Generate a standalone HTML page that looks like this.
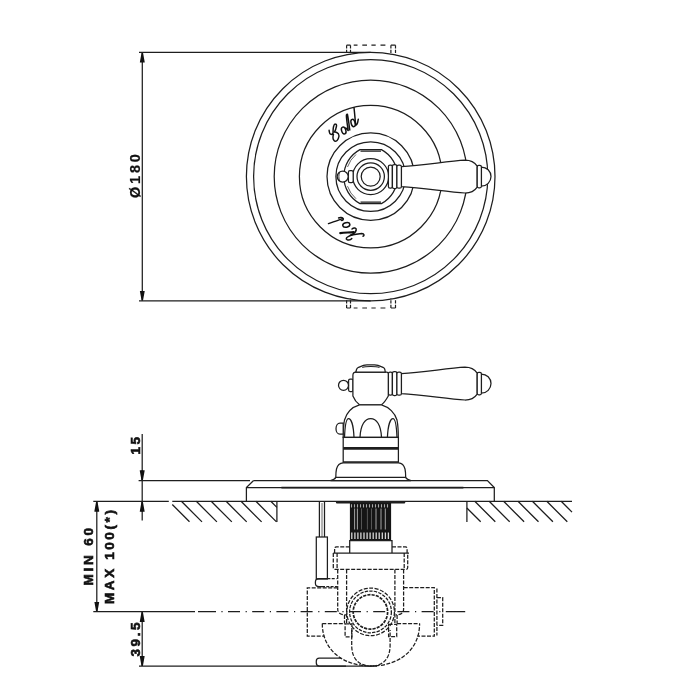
<!DOCTYPE html>
<html><head><meta charset="utf-8"><style>
html,body{margin:0;padding:0;background:#fff;width:700px;height:700px;overflow:hidden}
svg{display:block;filter:grayscale(1)}
.t{font-family:"Liberation Sans",sans-serif;font-weight:bold;fill:#111;stroke:#111;stroke-width:0.6}
</style></head><body>
<svg width="700" height="700" viewBox="0 0 700 700">
<defs>

<marker id="arr" viewBox="0 0 10 10" refX="10" refY="5" markerWidth="10" markerHeight="10" orient="auto-start-reverse" markerUnits="userSpaceOnUse">
  <path d="M0,2.8 C0,2.6 0.3,2.5 0.6,2.6 L10,4.3 V5.7 L0.6,7.4 C0.3,7.5 0,7.4 0,7.2 Z" fill="#111"/>
</marker>
</defs>

<!-- ============ TOP VIEW ============ -->
<g fill="none" stroke="#1e1e1e" stroke-width="1.25">
  <!-- extension lines -->
  <path d="M139,52.3 H370.7 M139,300.9 H370.7"/>
  <!-- dimension line -->
  <path d="M142.3,52.6 V300.6" marker-start="url(#arr)" marker-end="url(#arr)"/>
  <!-- circles -->
  <circle cx="370.7" cy="176.6" r="124.3"/>
  <circle cx="370.7" cy="176.6" r="117.1"/>
  <circle cx="370.7" cy="176.6" r="96.5"/>
  <circle cx="370.7" cy="176.6" r="71.3"/>
  <circle cx="370.7" cy="176.6" r="43.7"/>
  <circle cx="370.7" cy="176.6" r="34.8"/>
  <path d="M360,149.6 H381.4 A30.6,30.6 0 0 1 381.4,203.6 H360 A30.6,30.6 0 0 1 360,149.6 Z"/>
  <path d="M360.5,151.1 H381 M381,202.1 H360.5" stroke-width="1.3"/>
  <path d="M347.5,167 A29,29 0 0 1 356,154.5 M347.5,186.2 A29,29 0 0 0 356,198.7" stroke-width="1" stroke="#666"/>
  <circle cx="370.7" cy="176.6" r="18"/>
  <circle cx="370.7" cy="176.6" r="13.7"/>
  <circle cx="370.7" cy="176.6" r="9.5"/>
  <!-- dashed boxes -->
  <g stroke-width="1.2">
    <path d="M346.6,45.2 H350.5 M390.9,45.2 H395.5 M353.7,45.2 H357.5 M362.3,45.2 H367 M371.4,45.2 H375.7 M380.5,45.2 H385.4"/>
    <path d="M346.6,45.2 V54.5 M350.5,45.2 V54.5 M390.9,45.2 V54.5 M395.5,45.2 V54.5" stroke-dasharray="3.2,1.3"/>
    <path d="M346.6,308 H350.5 M390.9,308 H395.5 M353.7,308 H357.5 M362.3,308 H367 M371.4,308 H375.7 M380.5,308 H385.4"/>
    <path d="M346.6,308 V298.4 M350.5,308 V298.4 M390.9,308 V298.4 M395.5,308 V298.4" stroke-dasharray="3.2,1.3"/>
  </g>
</g>
<!-- left knob top view -->
<g fill="#fff" stroke="#1e1e1e" stroke-width="1.25">
  <rect x="348.4" y="170.6" width="4.8" height="12" rx="1.6"/>
  <circle cx="342.7" cy="176.6" r="5.5"/>
  <path d="M339.6,172.2 C338.6,174.5 338.6,178.7 339.6,181" fill="none" stroke-width="0.9"/>
</g>
<g fill="#fff" stroke="#1e1e1e" stroke-width="1.25" transform="translate(0,176.6)">
  <path d="M401.4,-10 C425,-11.5 448,-15.5 465,-16.4 C471,-16.4 475.5,-13 477.2,-10.5 L477.2,10.5 C475.5,13 471,16.4 465,16.4 C448,15.5 425,11.5 401.4,10 Z"/>
  <path d="M481.4,-9.6 A9.6,9.6 0 0 1 481.4,9.6 Z"/>
  <rect x="477.2" y="-11.2" width="4.2" height="22.4" rx="1.5"/>
  <rect x="388.4" y="-11.6" width="4" height="23.2" rx="1.6"/>
  <rect x="392.4" y="-12" width="4.5" height="24" rx="1.8"/>
  <rect x="396.9" y="-11.6" width="4.5" height="23.2" rx="1.8"/>
</g>
<text class="t" font-size="14.5" letter-spacing="2.8" style="stroke-width:0.2" transform="translate(139.6,198) rotate(-90)">Ø180</text>
<!-- Cold / Hot -->
<g fill="none" stroke="#111" stroke-width="1.45" stroke-linecap="round" stroke-linejoin="round">
  <path d="M329.1,130.3 C329.2,132.2 330.1,134.3 331.2,134.4 C332.1,134.5 332.8,134 333,133 C333.1,131 333,128.6 333.5,126.8 C334,124.9 334.6,123.9 335.2,123.95 C336.3,124 336.7,125 336.5,126.2 C336.2,128 335.4,130.5 334.4,132.1 C335.6,131.8 337.2,132.5 338.4,133.8 C339.2,135 339,137.3 338.3,138.6 C337.6,140 336.8,141.2 335.9,141.2 C335,141.2 334.2,140.8 333.9,140.3 C333.2,139.5 332.9,138.3 332.95,137.3 C333,136 333.2,135 333.5,134.4"/>
  <ellipse cx="343.7" cy="130.5" rx="2.1" ry="3.6" transform="rotate(-18 343.7 130.5)"/>
  <path d="M345.6,128 C346.5,128.5 347.5,129.5 348.2,130.5 C347.4,125 346.4,119 346.4,115.5 C346.4,114.2 347.2,113.8 347.5,114.6 C348.2,118 349,124 349.8,130"/>
  <ellipse cx="353.1" cy="123" rx="2" ry="3.8" transform="rotate(-15 353.1 123)"/>
  <path d="M354,107.7 C354.6,113 355.1,119 355.6,124.5 C356.1,126 357.6,124.5 358.3,119.2"/>
</g>
<g fill="none" stroke="#111" stroke-width="1.5" stroke-linecap="round" stroke-linejoin="round">
  <path d="M328.5,223.6 C333,222.2 338,220.3 342.9,218.5"/>
  <path d="M338.6,218 C340,217.2 342.6,217.3 343.2,218.8 C343.6,220.1 342.3,220.7 341.3,220.4"/>
  <ellipse cx="346.3" cy="224.9" rx="3.6" ry="2.3" transform="rotate(-12 346.3 224.9)"/>
  <path d="M340.3,233.1 C344.5,232.6 349.5,232.5 353.6,232.1" stroke-width="2.2"/>
  <path d="M352,229 C353.8,227.4 356.6,227.8 356.2,230 C355.7,232.6 352,235 348.2,236.6 C346.2,237.5 345.7,239 347.1,239.7 C349,240.3 351,239.6 351.8,238.5"/>
  <path d="M350.5,235.3 C354.5,234.2 358.5,233.6 361.8,233.4 C364.3,233.5 364.6,235.6 363,236.3"/>
</g>

<!-- ============ SIDE VIEW ============ -->
<g fill="#fff" stroke="#1e1e1e" stroke-width="1.25" transform="translate(0,383.6)">
  <path d="M401.4,-10 C425,-11.5 448,-15.5 465,-16.4 C471,-16.4 475.5,-13 477.2,-10.5 L477.2,10.5 C475.5,13 471,16.4 465,16.4 C448,15.5 425,11.5 401.4,10 Z"/>
  <path d="M481.4,-9.6 A9.6,9.6 0 0 1 481.4,9.6 Z"/>
  <rect x="477.2" y="-11.2" width="4.2" height="22.4" rx="1.5"/>
  <rect x="388.4" y="-11.6" width="4" height="23.2" rx="1.6"/>
  <rect x="392.4" y="-12" width="4.5" height="24" rx="1.8"/>
  <rect x="396.9" y="-11.6" width="4.5" height="23.2" rx="1.8"/>
</g>
<g fill="#fff" stroke="#1e1e1e" stroke-width="1.25">
  <!-- left knob -->
  <rect x="348.6" y="379" width="4.5" height="12.6" rx="1.5"/>
  <circle cx="343.5" cy="385.3" r="5"/>
  <!-- head body -->
  <path d="M355.7,372.2 H386.5 C387.5,372.2 388.3,373 388.3,374 V396 C386,400 384,403 381.5,404.8 H359.5 C357,403 354.5,400 352.9,396 V375.5 C352.9,373.5 354,372.2 355.7,372.2 Z"/>
  <!-- cap -->
  <path d="M355.8,372 L356.6,369.3 C357,368.3 357.6,367.8 358.6,367.3 L363.5,365.3 C364.5,364.9 365.5,364.8 367,364.8 H374.5 C376,364.8 377,364.9 378,365.3 L383,367.3 C384,367.8 384.5,368.3 384.8,369.3 L385.3,372 Z"/>
  <path d="M362.3,367.4 C365.5,366.3 376,366.3 379.5,367.4" fill="none" stroke-width="1.1"/>
  <!-- dome -->
  <path d="M359.5,404.8 H381.5 C389,407 395,413 397,420 C398,425 398.3,432 398.3,437.4 H343.2 C343.2,432 343.5,425 344.5,420 C346.5,413 352,407 359.5,404.8 Z"/>
  <path d="M344.5,437.4 C345,425 346.5,418.5 348.5,418.5 C351,418.5 353.5,425 354,437.4" fill="none"/>
  <path d="M360,437.4 C360.5,425 365,418.5 370.7,418.5 C376.4,418.5 381,425 381.5,437.4" fill="none"/>
  <path d="M387.4,437.4 C388,425 390.5,418.5 393,418.5 C395,418.5 396.5,425 397,437.4" fill="none"/>
  <!-- dome side knob -->
  <path d="M343.2,423.2 H340 C337.5,423.2 336,426 336,428.7 C336,431.4 337.5,434.2 340,434.2 H343.2 Z"/>
  <!-- band -->
  <rect x="343.2" y="437.4" width="55.2" height="25.4"/>
  <path d="M343.2,448.4 H398.4" stroke-width="2.6"/>
  <path d="M343.2,462.6 H398.4" stroke-width="2.6"/>
  <!-- base -->
  <path d="M343.2,462.8 C340,463 337.5,465 336.5,469 C335.8,472 335.8,475 335.8,477.4 C335,479 333,480 330.5,480.6 H411 C408.5,480 406.5,479 405.7,477.4 C405.7,475 405.7,472 405,469 C404,465 401.5,463 398.4,462.8 Z"/>
  <path d="M335.8,477.4 H405.7" fill="none"/>
</g>

<!-- plate -->
<g fill="none" stroke="#1e1e1e" stroke-width="1.25">
  <path d="M138.6,480.5 H250 M253.6,480.5 H487.4 L494.3,487.5 V501.3 M253.6,480.5 L246.4,487.5 V501.3"/>
  <path d="M246.4,487.6 H494.3"/>
  <path d="M281.4,487.6 H463.4" stroke-width="1.8"/>
  <!-- wall -->
  <path d="M93.3,501.3 H168.8 M172.3,501.3 H572"/>
  <path d="M276.9,501.3 V522 M466.9,501.3 V522"/>
  <g stroke-width="1.3">
    <path d="M172.3,504.5 L189.5,521.8 M181.4,501.3 L202,521.9 M196.3,501.3 L216.9,521.9 M211.2,501.3 L231.8,521.9 M226.1,501.3 L246.7,521.9 M241,501.3 L261.6,521.9 M255.9,501.3 L276.5,521.9 M270.8,501.3 L276.9,507.4"/>
    <path d="M466.9,508 L480.7,521.8 M474.8,501.3 L495.3,521.8 M489.2,501.3 L509.7,521.8 M503.6,501.3 L524.1,521.8 M518,501.3 L538.5,521.8 M532.4,501.3 L552.9,521.8 M546.8,501.3 L567.3,521.8 M561.2,501.3 L572,512.1"/>
  </g>
</g>

<!-- dims side -->
<g fill="none" stroke="#1e1e1e" stroke-width="1.25">
  <path d="M142.2,434.1 V520.6"/>
  <path d="M142.2,470.3 V480.3" marker-end="url(#arr)"/>
  <path d="M142.2,501.8 V511.8" marker-start="url(#arr)"/>
  <path d="M96.8,501.7 V611.5" marker-start="url(#arr)" marker-end="url(#arr)"/>
  <path d="M142.2,612 V666" marker-start="url(#arr)" marker-end="url(#arr)"/>
  <path d="M93.3,611.7 H195"/>
  <path d="M198,611.7 H216 M221.4,611.7 H222.6 M445.8,611.7 H465.2"/>
  <path d="M228,611.7 H445" stroke-dasharray="12,5.6,1.2,5.4"/>
  <path d="M139,666.1 H377"/>
</g>
<text class="t" font-size="13.5" letter-spacing="2.6" transform="translate(140,454.5) rotate(-90)">15</text>
<text class="t" font-size="13.5" letter-spacing="2.8" transform="translate(92.8,585.5) rotate(-90)">MIN 60</text>
<text class="t" font-size="13.5" letter-spacing="2.6" transform="translate(114,604) rotate(-90)">MAX 100(*)</text>
<text class="t" font-size="13.5" letter-spacing="2.6" transform="translate(139.5,656.5) rotate(-90)">39.5</text>

<!-- ============ BODY BELOW WALL ============ -->
<g fill="none" stroke="#1e1e1e" stroke-width="1.25">
  <!-- flange under wall -->
  <path d="M337,502.4 H404.2" stroke-width="2.2" stroke-linecap="round"/>
  <!-- rod -->
  <path d="M319.4,502 V537 M324.5,502 V537"/>
  <path d="M322,503 V537" stroke-width="1" stroke="#666"/>
  <rect x="316.3" y="537" width="11.1" height="42" fill="#fff"/>
  <!-- spline -->
  <rect x="349.9" y="503" width="41.2" height="37.5" fill="#151515" stroke="none"/>
  <path d="M351.5,504.2 V507.4 M354.5,504.2 V507.4 M357.5,504.2 V507.4 M360.5,504.2 V507.4 M363.5,504.2 V507.4 M366.5,504.2 V507.4 M369.5,504.2 V507.4 M372.5,504.2 V507.4 M375.5,504.2 V507.4 M378.5,504.2 V507.4 M381.5,504.2 V507.4 M384.5,504.2 V507.4 M387.5,504.2 V507.4" stroke="#a8a8a8" stroke-width="1.1"/>
  <path d="M351.8,532.6 V539 M354.9,532.6 V539 M357.9,532.6 V539 M360.9,532.6 V539 M364.0,532.6 V539 M367.1,532.6 V539 M370.1,532.6 V539 M373.2,532.6 V539 M376.2,532.6 V539 M379.2,532.6 V539 M382.3,532.6 V539 M385.4,532.6 V539 M388.4,532.6 V539" stroke="#d8d8d8" stroke-width="1.3"/>
  <path d="M354.6,508.5 V529.5 M357.4,508.5 V529.5 M376,508.5 V529.5 M381,508.5 V529.5 M385.3,508.5 V529.5" stroke="#c8c8c8" stroke-width="0.8"/>
  <path d="M361.5,508.5 V529.5 M367.4,508.5 V529.5 M371.5,508.5 V529.5" stroke="#555" stroke-width="1"/>
  <!-- box under spline -->
  <path d="M349.7,553 V540.5 H392 V553"/>
  <path d="M333.3,553.1 H409"/>
  <g stroke-dasharray="4,1.5">
    <path d="M334.6,553 V548 Q335,546.8 336.5,546.8 H349.7 M392,546.8 H405.5 Q407.1,547 407.1,548.5 V553"/>
    <path d="M333.3,553.1 V567.4 Q333.3,569.4 335.3,569.4 H405.7 Q407.7,569.4 407.7,567.4 V553.1"/>
    <path d="M337.1,553 V569.4 M404.2,553 V569.4"/>
    <!-- legs -->
    <path d="M337.7,569.4 V609 C337.7,613 340.5,614.9 346.1,614.9 M346.6,569.4 V623.9 M344.5,614.9 V623.5"/>
    <path d="M403.6,569.4 V609 C403.6,613 400.8,614.9 396,614.9 M394.9,569.4 V624.3 M397.1,614.9 V623.5"/>
    <!-- left box -->
    <path d="M337.7,587.9 H307.3 V636.1 H324.5"/>
    <path d="M403.7,587.6 H434.3 V636.2 H417.4"/>
    <path d="M436.9,588.6 V635.5 M436.9,597.6 H442.7 V625.3 H436.9"/>
    <!-- horizontal at 623.7 -->
    <path d="M322.3,623.5 H344.5 M397.1,623.5 H419.6"/>
    <!-- big arc -->
    <path d="M322.3,623.5 C322.3,650 343,666 371,666 C399,666 419.6,650 419.6,623.5"/>
    <!-- inner U -->
    <path d="M351.7,630 V645 C351.7,660 360,666 371,666 C382,666 390.1,660 390.1,645 V630"/>
    <!-- small rects -->
    <rect x="345.1" y="623.9" width="6.8" height="12.9"/>
    <rect x="388.6" y="624.3" width="8.1" height="12.3"/>
    <!-- circles -->
    <circle cx="370.6" cy="611.9" r="23.8"/>
    <circle cx="370.5" cy="611.9" r="20.9" stroke-dasharray="3.4,1.2"/>
    <circle cx="370.4" cy="611.9" r="17.2" stroke-width="1.7" stroke-dasharray="3.2,1.1"/>
  </g>
  <!-- foot -->
  <path d="M327.4,578.5 H319 Q315.4,578.5 315.4,582 V583.2 Q315.4,586.6 319,586.6 H322" fill="none"/>
  <path d="M327.4,578.5 H336.5 M322,586.6 H337" stroke-dasharray="3,1.3" fill="none"/>
  <path d="M341,658 H319.3 A3,3 0 0 0 316.3,661 V663 A3,3 0 0 0 319.3,666 H346" fill="none"/>
</g>
</svg>
</body></html>
